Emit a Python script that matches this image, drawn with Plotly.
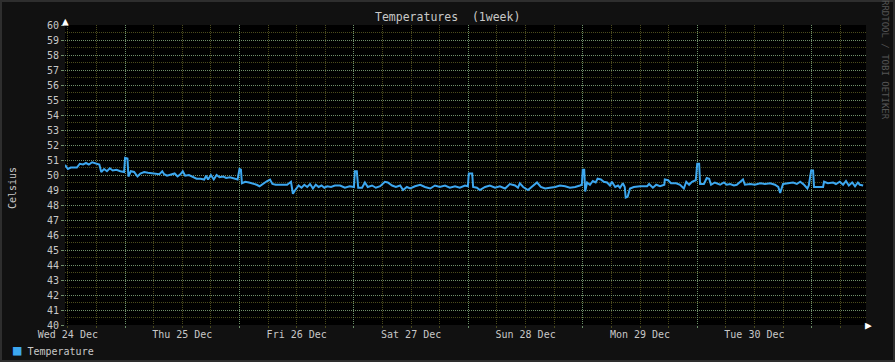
import pandas as pd
import plotly.graph_objects as go

# ---------------- data ----------------
start_time = "2014-12-24 11:24"
hours = [
    0, 0.6, 1.2, 2.5, 3.1, 3.8, 4.4, 5.0, 5.7, 6.4,
    7.2, 7.6, 8.2, 8.8, 9.4, 10.0, 10.8, 11.6, 12.4, 12.6,
    13.1, 13.3, 13.8, 14.5, 15.2, 15.8, 16.6, 17.4, 18.2, 19.0,
    19.8, 20.4, 20.8, 21.4, 22.2, 23.0, 23.6, 24.2, 24.7, 25.2,
    26.0, 26.8, 27.6, 28.4, 29.2, 29.6, 30.0, 30.6, 31.2, 31.8,
    32.4, 33.2, 33.8, 34.6, 35.4, 36.2, 36.6, 36.9, 37.1,
    37.8, 38.6, 39.4, 40.2, 40.8, 41.6, 42.4, 43.0, 43.5, 44.2,
    45.0, 45.8, 46.6, 47.4, 47.8, 48.3, 49.0, 49.6, 50.2, 50.8,
    51.4, 52.0, 52.6, 53.2, 53.8, 54.4, 55.0, 55.8, 56.6, 57.7,
    58.7, 59.7, 60.6, 60.8, 61.2, 61.5, 62.3, 62.9, 63.5, 64.4,
    65.2, 66.1, 67.1, 67.7, 68.6, 69.4, 70.3, 70.9, 71.7, 72.4,
    73.4, 74.5, 75.5, 76.6, 77.6, 78.6, 79.7, 80.7, 81.8, 82.8,
    83.9, 84.5, 84.7, 85.4, 85.6, 86.4, 87.0, 88.1, 89.1, 90.2,
    91.2, 92.3, 93.3, 94.4, 95.0, 95.4, 96.1, 97.1, 97.9, 99.0,
    99.8, 100.7, 101.7, 102.8, 103.8, 104.9, 105.9, 107.0, 108.0, 108.4,
    108.6, 108.9, 109.1, 109.5, 110.1, 110.7, 111.3, 111.7, 112.4, 113.0,
    113.7, 114.3, 114.7, 115.4, 116.0, 116.4, 117.0, 117.4, 117.6, 118.0,
    118.5, 119.3, 120.6, 122.1, 122.5, 123.3, 124.0, 124.8, 125.7, 125.8,
    126.5, 127.1, 128.2, 129.0, 129.8, 130.3, 130.9, 131.5, 131.9, 132.3,
    132.6, 133.0, 133.2, 134.0, 134.6, 135.1, 135.5, 136.3, 137.4, 138.2,
    138.8, 139.5, 140.3, 140.9, 142.2, 142.6, 143.7, 144.7, 145.8, 146.8,
    147.9, 148.9, 149.6, 150.0, 150.6, 151.6, 152.7, 153.5, 154.2, 155.0,
    155.7, 156.0, 156.5, 156.9, 157.1, 157.9, 159.0, 159.2, 160.0, 161.1,
    161.7, 162.5, 163.2, 163.8, 164.4, 165.1, 165.7, 166.3, 166.7, 167.4,
]
temperature = [
    50.67, 50.4, 50.5, 50.5, 50.75, 50.7, 50.8, 50.7, 50.85, 50.8,
    50.7, 50.2, 50.4, 50.25, 50.45, 50.3, 50.35, 50.25, 50.2, 51.15,
    51.1, 49.9, 50.25, 50.2, 49.9, 50.1, 50.2, 50.15, 50.1, 50.1,
    50.05, 50.25, 50.05, 49.95, 50.0, 50.1, 49.9, 50.05, 50.25, 49.95,
    50.0, 49.9, 49.75, 49.75, 49.7, 49.95, 49.7, 50.0, 49.7, 50.0,
    49.85, 49.9, 49.8, 49.85, 49.75, 49.7, 50.4, 50.35, 49.45,
    49.55, 49.5, 49.45, 49.35, 49.25, 49.45, 49.6, 49.7, 49.4, 49.35,
    49.35, 49.3, 49.35, 49.55, 48.75, 49.0, 49.3, 49.15, 49.35, 49.2,
    49.4, 49.1, 49.35, 49.2, 49.3, 49.15, 49.25, 49.2, 49.3, 49.3,
    49.15, 49.25, 49.2, 50.25, 50.25, 49.15, 49.15, 49.5, 49.2, 49.3,
    49.15, 49.25, 49.55, 49.5, 49.3, 49.2, 49.3, 49.0, 49.2, 49.1,
    49.25, 49.35, 49.2, 49.1, 49.3, 49.2, 49.3, 49.15, 49.25, 49.15,
    49.3, 49.25, 50.1, 50.1, 49.2, 49.15, 49.0, 49.2, 49.3, 49.15,
    49.25, 49.1, 49.4, 49.3, 49.15, 49.45, 49.2, 49.0, 49.2, 49.5,
    49.2, 49.1, 49.15, 49.2, 49.3, 49.25, 49.15, 49.2, 49.3, 49.35,
    50.35, 50.35, 48.9, 49.5, 49.35, 49.6, 49.5, 49.75, 49.7, 49.55,
    49.5, 49.3, 49.55, 49.2, 49.3, 49.15, 49.45, 49.2, 48.5, 48.55,
    49.1, 49.2, 49.25, 49.25, 49.4, 49.15, 49.35, 49.25, 49.35, 49.7,
    49.65, 49.45, 49.45, 49.35, 49.1, 49.55, 49.35, 49.55, 49.6, 49.65,
    50.75, 50.75, 49.4, 49.4, 49.8, 49.75, 49.35, 49.5, 49.35, 49.5,
    49.35, 49.4, 49.3, 49.35, 49.7, 49.35, 49.4, 49.35, 49.45, 49.4,
    49.45, 49.35, 49.2, 48.8, 49.4, 49.45, 49.5, 49.4, 49.55, 49.35,
    49.1, 49.3, 50.3, 50.3, 49.2, 49.2, 49.2, 49.55, 49.45, 49.5,
    49.4, 49.55, 49.35, 49.6, 49.3, 49.5, 49.25, 49.5, 49.35, 49.3,
]
assert len(hours) == len(temperature)

day_labels = ["Wed 24 Dec", "Thu 25 Dec", "Fri 26 Dec", "Sat 27 Dec",
              "Sun 28 Dec", "Mon 29 Dec", "Tue 30 Dec"]
day_noons = ["2014-12-24 12:00", "2014-12-25 12:00", "2014-12-26 12:00",
             "2014-12-27 12:00", "2014-12-28 12:00", "2014-12-29 12:00",
             "2014-12-30 12:00"]
midnights = ["2014-12-25", "2014-12-26", "2014-12-27", "2014-12-28",
             "2014-12-29", "2014-12-30", "2014-12-31"]
y_ticks = list(range(40, 61))

# ---------------- figure ----------------
t0 = pd.Timestamp(start_time)
times = t0 + pd.to_timedelta(hours, unit="h")
x_range = [t0, t0 + pd.Timedelta(hours=168)]

FONT = "DejaVu Sans Mono"
TXT = "#c8c8c8"
LINE = "#3da7ef"
MAJ_X = "#6c9068"
MAJ_Y = "#70906a"
MINOR = "#4a4a1c"
DOTS = "1px,1px"

W, H = 895, 362
ML, MR, MT, MB = 65, 29, 25, 37
PW, PH = W - ML - MR, H - MT - MB


def px(xp):
    return (xp - ML) / PW


def py(yp):
    return (H - MB - yp) / PH


fig = go.Figure()
fig.add_trace(go.Scatter(x=times, y=temperature, mode="lines",
                         line=dict(color=LINE, width=2),
                         showlegend=False, hoverinfo="skip"))
fig.add_trace(go.Scatter(x=[t0], y=[None], xaxis="x2", mode="lines",
                         showlegend=False, hoverinfo="skip"))

fig.update_layout(
    width=W, height=H,
    margin=dict(l=ML, r=MR, t=MT, b=MB),
    paper_bgcolor="#111111",
    plot_bgcolor="#000000",
    font=dict(family=FONT, size=10, color=TXT),
    showlegend=False,
    xaxis=dict(
        type="date", range=x_range,
        tickvals=midnights, showticklabels=False,
        showgrid=True, gridcolor=MAJ_X, griddash=DOTS, gridwidth=1,
        ticks="outside", ticklen=2, tickcolor=MAJ_X,
        zeroline=False, showline=False,
        minor=dict(dtick=6 * 3600 * 1000, tick0="2014-12-24 00:00",
                   showgrid=True, gridcolor=MINOR, griddash=DOTS,
                   ticks="outside", ticklen=2, tickcolor=MINOR),
    ),
    xaxis2=dict(
        type="date", range=x_range, overlaying="x", anchor="y", side="bottom",
        tickvals=day_noons, ticktext=day_labels, showgrid=False,
        ticks="", zeroline=False, showline=False, ticklabelstandoff=2,
        tickfont=dict(family=FONT, size=10, color=TXT),
    ),
    yaxis=dict(
        range=[40, 60], tickvals=y_ticks, ticktext=[str(v) for v in y_ticks],
        showgrid=True, gridcolor=MAJ_Y, griddash=DOTS, gridwidth=1,
        ticks="outside", ticklen=3, tickcolor=MAJ_Y,
        zeroline=False, showline=False,
        tickfont=dict(family=FONT, size=10, color=TXT),
        minor=dict(dtick=0.5, showgrid=True, gridcolor=MINOR,
                   griddash=DOTS),
    ),
)

annotations = [
    dict(text="Temperatures\u00a0 (1week)", x=px(447), y=py(17), xref="paper",
         yref="paper", showarrow=False, xanchor="center", yanchor="middle",
         font=dict(family=FONT, size=11.5, color=TXT)),
    dict(text="Celsius", x=px(12), y=py(188), xref="paper", yref="paper",
         showarrow=False, textangle=-90, xanchor="center", yanchor="middle",
         font=dict(family=FONT, size=10, color=TXT)),
    dict(text="RRDTOOL / TOBI OETIKER", x=px(885), y=py(60), xref="paper",
         yref="paper", showarrow=False, textangle=90, xanchor="center",
         yanchor="middle", font=dict(family=FONT, size=9, color="#555555")),
    dict(text="<span style='color:%s;font-size:14px'>\u25a0</span> Temperature" % LINE,
         x=px(11), y=py(350), xref="paper", yref="paper", showarrow=False,
         xanchor="left", yanchor="middle",
         font=dict(family=FONT, size=10, color=TXT)),
    dict(text="\u25b2", x=0, y=1, xref="paper", yref="paper", showarrow=False,
         xanchor="center", yanchor="bottom", yshift=-5,
         font=dict(family=FONT, size=11, color="#ffffff")),
    dict(text="\u25b6", x=1, y=0, xref="paper", yref="paper", showarrow=False,
         xanchor="left", yanchor="middle", xshift=-3,
         font=dict(family=FONT, size=11, color="#ffffff")),
]
fig.update_layout(annotations=annotations)

fig.add_shape(type="rect", xref="paper", yref="paper",
              x0=px(1), x1=px(W - 1), y0=py(H - 1), y1=py(1),
              line=dict(color="#2e2e2e", width=2), layer="below")

fig.write_html("out.html")
